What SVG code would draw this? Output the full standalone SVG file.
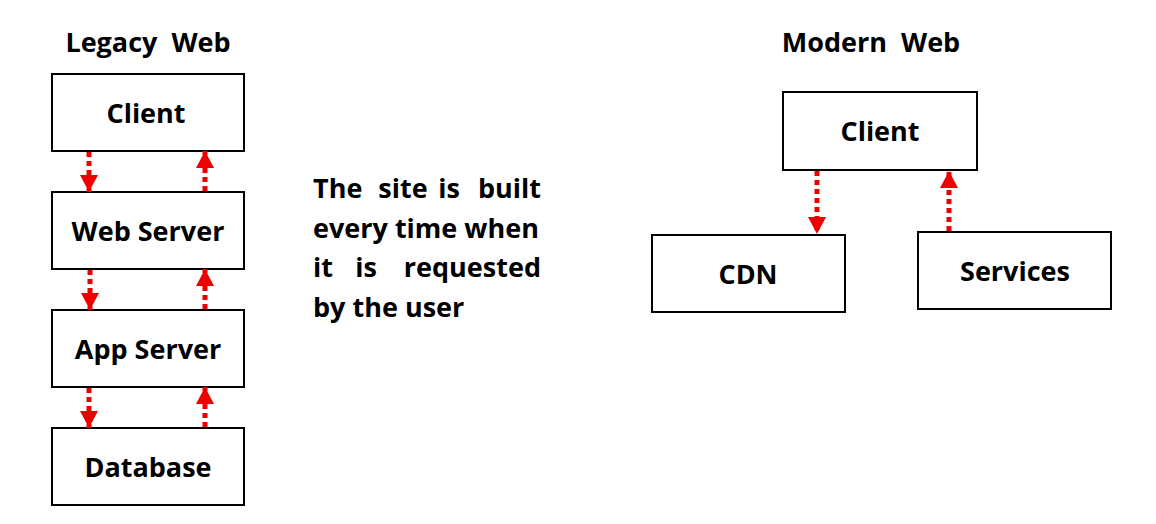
<svg xmlns="http://www.w3.org/2000/svg" width="1156" height="524" viewBox="0 0 1156 524">
<style>
  .box { fill: #fff; stroke: #000; stroke-width: 2; }
  .lbl { font-family: "Open Sans", Lato, "Liberation Sans", sans-serif; font-weight: bold; font-size: 27px; fill: #000; text-anchor: middle; white-space: pre; }
  .para { font-family: "Open Sans", Lato, "Liberation Sans", sans-serif; font-weight: bold; font-size: 27px; fill: #000; }
  .m { text-anchor: middle; }
  .e { text-anchor: end; }
  .conn { stroke: #ee0000; stroke-width: 5; stroke-dasharray: 5 4; fill: none; marker-end: url(#ah); }
</style>
<defs>
  <marker id="ah" markerUnits="userSpaceOnUse" markerWidth="20" markerHeight="20" viewBox="0 0 20 20" refX="17" refY="10" orient="auto">
    <path d="M0,1 L17,10 L0,19 Z" fill="#ee0000"/>
  </marker>
</defs>
<rect width="1156" height="524" fill="#fff"/>
<text class="lbl" x="148" y="52" xml:space="preserve">Legacy  Web</text>
<text class="lbl" x="871" y="52" xml:space="preserve">Modern  Web</text>
<g id="legacy-client"><rect class="box" x="52" y="74" width="192" height="77"/><text class="lbl" x="146" y="123">Client</text></g>
<g id="legacy-webserver"><rect class="box" x="52" y="192" width="192" height="77"/><text class="lbl" x="148" y="241">Web Server</text></g>
<g id="legacy-appserver"><rect class="box" x="52" y="310" width="192" height="77"/><text class="lbl" x="148" y="359">App Server</text></g>
<g id="legacy-database"><rect class="box" x="52" y="428" width="192" height="77"/><text class="lbl" x="148" y="477">Database</text></g>
<g id="modern-client"><rect class="box" x="783" y="92" width="194" height="78"/><text class="lbl" x="880" y="141">Client</text></g>
<g id="modern-cdn"><rect class="box" x="652" y="235" width="193" height="77"/><text class="lbl" x="748" y="284">CDN</text></g>
<g id="modern-services"><rect class="box" x="918" y="232" width="193" height="77"/><text class="lbl" x="1015" y="281">Services</text></g>
<g id="note" class="para">
  <text x="313" y="198">The</text><text class="m" x="403" y="198">site</text><text class="m" x="449" y="198">is</text><text class="e" x="541" y="198">built</text>
  <text x="313" y="238">every time when</text>
  <text x="313" y="277">it</text><text class="m" x="366" y="277">is</text><text class="e" x="541" y="277">requested</text>
  <text x="313" y="317">by the user</text>
</g>
<g id="connectors">
  <line class="conn" x1="89" y1="152" x2="89" y2="192"/>
  <line class="conn" x1="205" y1="191" x2="205" y2="151"/>
  <line class="conn" x1="90" y1="270" x2="90" y2="310"/>
  <line class="conn" x1="205" y1="309" x2="205" y2="269"/>
  <line class="conn" x1="89" y1="388" x2="89" y2="428"/>
  <line class="conn" x1="205" y1="427" x2="205" y2="387"/>
  <line class="conn" x1="817" y1="171" x2="817" y2="234"/>
  <line class="conn" x1="949" y1="231" x2="949" y2="171"/>
</g>
</svg>
